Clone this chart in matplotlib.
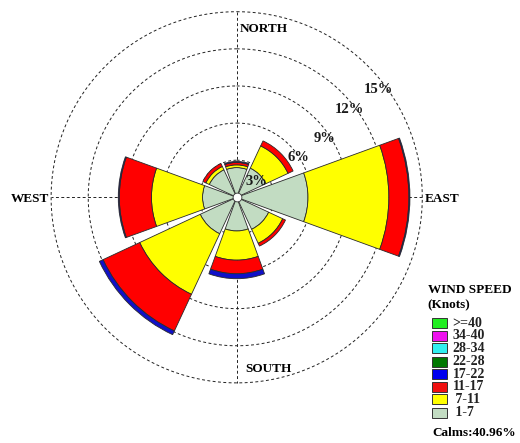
import numpy as np
import matplotlib
matplotlib.use("Agg")
import matplotlib.pyplot as plt
from matplotlib.patches import Rectangle

# ---------------- data ----------------
directions = ["N", "NE", "E", "SE", "S", "SW", "W", "NW"]
dir_angles = [0, 45, 90, 135, 180, 225, 270, 315]  # compass degrees

speed_bins = ["1-7", "7-11", "11-17", "17-22", "22-28", "28-34", "34-40", ">=40"]
legend_labels = [">=40", "34-40", "28-34", "22-28", "17-22", "11-17", " 7-11", " 1-7"]

# frequency (%) per direction for each speed class
freq_1_7 = [2.40, 2.60, 5.76, 2.85, 2.72, 3.25, 2.76, 2.45]
freq_7_11 = [0.22, 1.98, 6.54, 1.25, 2.36, 5.40, 4.13, 0.30]
freq_11_17 = [0.20, 0.45, 1.62, 0.25, 1.10, 3.27, 2.60, 0.27]
freq_17_22 = [0.08, 0.00, 0.08, 0.00, 0.40, 0.33, 0.08, 0.00]
freq_22_28 = [0, 0, 0, 0, 0, 0, 0, 0]
freq_28_34 = [0, 0, 0, 0, 0, 0, 0, 0]
freq_34_40 = [0, 0, 0, 0, 0, 0, 0, 0]
freq_ge40 = [0, 0, 0, 0, 0, 0, 0, 0]

ring_values = [3, 6, 9, 12, 15]
ring_labels = ["3%", "6%", "9%", "12%", "15%"]
calms_text = "Calms:40.96%"

# ---------------- style ----------------
colors = {
    "1-7": "#C2DCC2",
    "7-11": "#FFFF00",
    "11-17": "#FF0000",
    "17-22": "#1010C8",
    "22-28": "#007800",
    "28-34": "#30F0F0",
    "34-40": "#EE10EE",
    ">=40": "#22EE22",
}
legend_colors = ["#22EE22", "#EE10EE", "#30F0F0", "#007800", "#0000F0", "#EE1010", "#FFFF00", "#C2DCC2"]

SERIF = ["Liberation Serif", "DejaVu Serif"]
plt.rcParams["font.family"] = SERIF

W, H = 520, 443
fig = plt.figure(figsize=(W / 100, H / 100), dpi=100)
fig.patch.set_facecolor("white")

RMAX = 15.3
cx, cy, R15 = 236.7, 197.3, 185.6  # pixel layout of the polar plot
R = R15 * RMAX / 15
ax = fig.add_axes([(cx - R) / W, 1 - (cy + R) / H, 2 * R / W, 2 * R / H], projection="polar")
ax.set_theta_zero_location("N")
ax.set_theta_direction(-1)
ax.set_ylim(0, RMAX)
ax.grid(False)
ax.spines["polar"].set_visible(False)
ax.set_xticks([])
ax.set_yticks([])
ax.patch.set_alpha(0)

# dashed rings and axes lines
dash = (0, (3, 2.5))
th = np.linspace(0, 2 * np.pi, 500)
for rv in ring_values:
    ax.plot(th, np.full_like(th, rv), color="#222222", lw=0.7, ls=dash, zorder=1)
for a in [0, 90]:
    t = np.radians(a)
    ax.plot([t, t + np.pi], [15, 15], color="#222222", lw=0.7, ls=dash, zorder=1)

# stacked sectors
series = [freq_1_7, freq_7_11, freq_11_17, freq_17_22, freq_22_28, freq_28_34, freq_34_40, freq_ge40]
theta = np.radians(dir_angles)
bottom = np.zeros(len(directions))
for name, vals in zip(speed_bins, series):
    vals = np.array(vals, dtype=float)
    mask = vals > 0
    if mask.any():
        ax.bar(theta[mask], vals[mask], width=np.radians(40), bottom=bottom[mask],
               color=colors[name], edgecolor="#2a2a2a", linewidth=0.6, zorder=3)
    bottom += vals

# center hole
ax.scatter([0], [0], s=40, color="white", edgecolor="#333333", linewidth=0.6, zorder=5)

# ring percentage labels (positions)
lab_r = [2.06, 5.95, 8.55, 11.53, 14.41]
lab_a = [52, 57, 56, 52, 52.7]
for txt, r, a in zip(ring_labels, lab_r, lab_a):
    ax.text(np.radians(a), r, txt, ha="center", va="center", fontsize=10.5,
            fontweight="bold", color="#1a1a1a", zorder=4, family=SERIF)

# compass labels
def ftext(x, y, s, **kw):
    fig.text(x / W, 1 - y / H, s, family=SERIF, fontweight="bold", **kw)

ftext(240, 29, "NORTH", ha="left", va="center", fontsize=9.5)
ftext(425, 199, "EAST", ha="left", va="center", fontsize=9.5)
ftext(245, 369, "SOUTH", ha="left", va="center", fontsize=9.5)
ftext(49, 199, "WEST", ha="right", va="center", fontsize=9.5)

# legend
ftext(427.5, 290, "WIND SPEED", ha="left", va="center", fontsize=9.5)
ftext(427.5, 305, "(Knots)", ha="left", va="center", fontsize=9.5)
ys = [323.3, 335.5, 348.3, 361.5, 374, 386.7, 399.3, 412.5]
for lab, col, y in zip(legend_labels, legend_colors, ys):
    fig.add_artist(Rectangle((432 / W, 1 - (y + 5) / H), 14.5 / W, 10 / H,
                             transform=fig.transFigure, facecolor=col,
                             edgecolor="#333333", linewidth=0.7))
    fig.text(452.5 / W, 1 - y / H, lab, family=SERIF, fontsize=10, fontweight="bold",
             ha="left", va="center", color="#222222")

ftext(432.5, 433, calms_text, ha="left", va="center", fontsize=9.5)

fig.savefig("out.png", dpi=100)
